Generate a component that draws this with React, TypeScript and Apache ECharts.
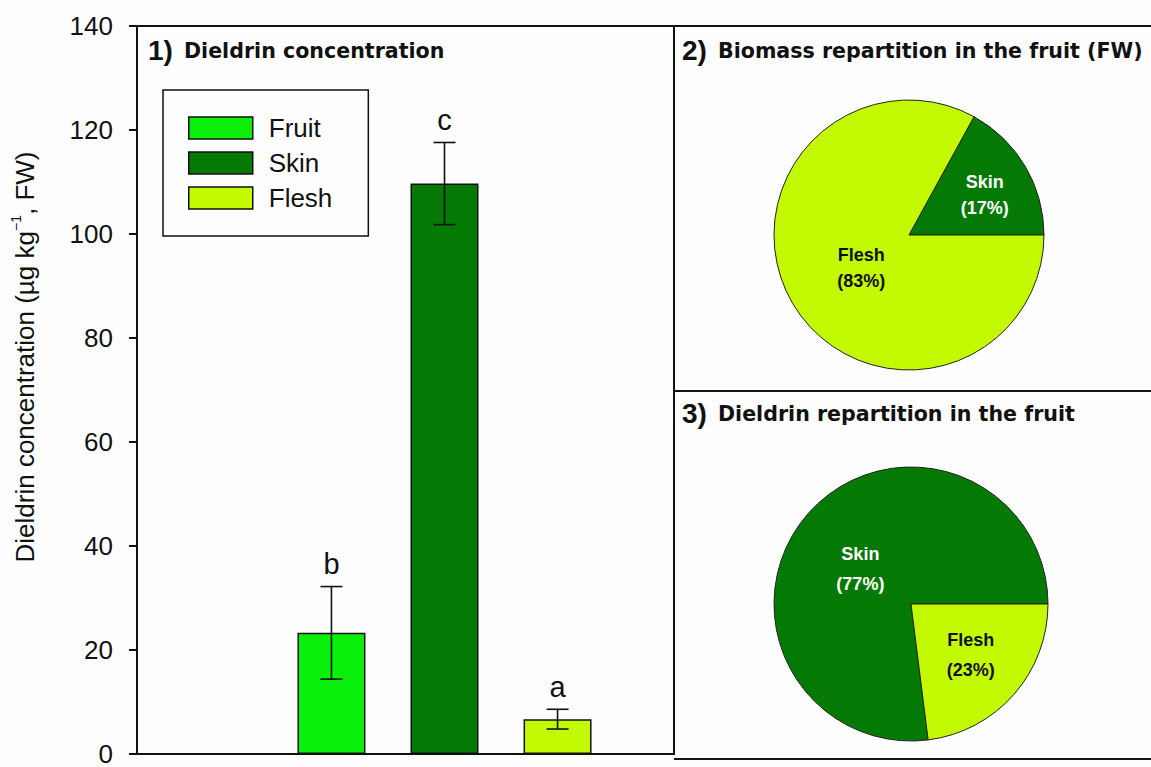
import React, { useEffect, useRef } from "react";
import * as echarts from "echarts";

// ---- data ----
const categories = ["Fruit", "Skin", "Flesh"];
const barPositions = [1.72, 2.72, 3.72];
const means = [23.3, 109.7, 6.7];
const errors = [8.9, 7.9, 1.9];
const letters = ["b", "c", "a"];
const barColors = ["#0af00a", "#047a04", "#c3fa03"];
const yMin = 0;
const yMax = 140;
const yInterval = 20;
const xMax = 4.75;

const biomassNames = ["Skin", "Flesh"];
const biomassValues = [17, 83];
const dieldrinNames = ["Skin", "Flesh"];
const dieldrinValues = [77, 23];

const panelTitles = [
  "Dieldrin concentration",
  "Biomass repartition in the fruit (FW)",
  "Dieldrin repartition in the fruit",
];

const SANS = "Liberation Sans, Arial, sans-serif";
const TITLE = "DejaVu Sans, sans-serif";
const INK = "#111";

export default function App() {
  const ref = useRef<HTMLDivElement>(null);
  useEffect(() => {
    if (!ref.current) return;
    const chart = echarts.init(ref.current, undefined, { renderer: "svg" });

    const colorOf = (n: string) => barColors[categories.indexOf(n)];
    const pieLabelColor = (n: string) => (n === "Skin" ? "#ffffff" : "#111111");

    const makePie = (
      names: string[],
      values: number[],
      center: number[],
      r: number,
      offsets: number[][],
      lh: number
    ) => ({
      type: "pie",
      center,
      radius: r,
      startAngle: 0,
      clockwise: false,
      silent: true,
      label: { show: true },
      labelLine: { show: false },
      data: names.map((n, i) => ({
        name: n,
        value: values[i],
        itemStyle: { color: colorOf(n), borderColor: "#222", borderWidth: 1 },
        label: {
          show: true,
          position: "inside",
          formatter: "{b}\n({c}%)",
          color: pieLabelColor(n),
          fontFamily: SANS,
          fontWeight: "bold",
          fontSize: 18,
          lineHeight: lh,
          offset: offsets[i],
        },
      })),
    });

    const line = (x1: number, y1: number, x2: number, y2: number) => ({
      type: "line",
      shape: { x1, y1, x2, y2 },
      style: { stroke: INK, lineWidth: 2 },
      silent: true,
    });
    const title = (num: string, text: string, x: number, y: number) => [
      {
        type: "text",
        x,
        y,
        style: { text: num, font: `bold 28px ${SANS}`, fill: INK, align: "left", verticalAlign: "middle" },
      },
      {
        type: "text",
        x: x + 36,
        y: y + 1,
        style: { text, font: `bold 20.6px ${TITLE}`, fill: INK, align: "left", verticalAlign: "middle" },
      },
    ];

    const option: any = {
      animation: false,
      backgroundColor: "#fefefe",
      grid: {
        left: 137,
        top: 26,
        right: 477,
        bottom: 8,
        show: true,
        borderColor: INK,
        borderWidth: 2,
        backgroundColor: "transparent",
      },
      legend: {
        show: true,
        data: categories,
        orient: "vertical",
        left: 163,
        top: 90,
        selectedMode: false,
        icon: "rect",
        itemWidth: 64,
        itemHeight: 22,
        itemGap: 9,
        padding: [25, 36, 25, 25],
        borderColor: INK,
        borderWidth: 1.5,
        itemStyle: { borderColor: INK, borderWidth: 1.5 },
        textStyle: { fontFamily: SANS, fontSize: 26, color: INK, padding: [0, 0, 0, 11] },
      },
      xAxis: {
        type: "value",
        min: 0,
        max: xMax,
        axisLine: { show: false },
        axisTick: { show: false },
        axisLabel: { show: false },
        splitLine: { show: false },
      },
      yAxis: {
        type: "value",
        min: yMin,
        max: yMax,
        interval: yInterval,
        axisLine: { show: true, lineStyle: { color: INK, width: 2 } },
        axisTick: { show: true, inside: false, length: 8, lineStyle: { color: INK, width: 2 } },
        axisLabel: { fontFamily: SANS, fontSize: 26, color: INK, margin: 24 },
        splitLine: { show: false },
      },
      series: [
        ...categories.map((c, i) => ({
          type: "bar",
          name: c,
          barWidth: 68,
          barGap: "-100%",
          data: [[barPositions[i], means[i]]],
          itemStyle: { color: barColors[i], borderColor: INK, borderWidth: 1.5 },
          silent: true,
        })),
        {
          type: "custom",
          z: 5,
          silent: true,
          data: means.map((m, i) => [barPositions[i], m - errors[i], m + errors[i]]),
          renderItem: (params: any, api: any) => {
            const x = api.value(0);
            const lo = api.value(1);
            const hi = api.value(2);
            const pHi = api.coord([x, hi]);
            const pLo = api.coord([x, lo]);
            const cap = 11;
            const st = { stroke: INK, lineWidth: 1.6 };
            return {
              type: "group",
              children: [
                { type: "line", shape: { x1: pHi[0], y1: pHi[1], x2: pLo[0], y2: pLo[1] }, style: st },
                { type: "line", shape: { x1: pHi[0] - cap, y1: pHi[1], x2: pHi[0] + cap, y2: pHi[1] }, style: st },
                { type: "line", shape: { x1: pLo[0] - cap, y1: pLo[1], x2: pLo[0] + cap, y2: pLo[1] }, style: st },
                {
                  type: "text",
                  x: pHi[0],
                  y: pHi[1] - 8,
                  style: {
                    text: letters[params.dataIndex],
                    font: `29px ${SANS}`,
                    fill: INK,
                    align: "center",
                    verticalAlign: "bottom",
                  },
                },
              ],
            };
          },
        },
        makePie(biomassNames, biomassValues, [909, 235], 135, [[15, -4], [13, -3]], 26),
        makePie(dieldrinNames, dieldrinValues, [911, 604], 137, [[3, 12], [6, 4]], 30),
      ],
      graphic: [
        line(674, 26, 1151, 26),
        line(674, 391, 1151, 391),
        line(674, 759, 1151, 759),
        ...title("1)", panelTitles[0], 148, 50),
        ...title("2)", panelTitles[1], 682, 50),
        ...title("3)", panelTitles[2], 682, 413),
        {
          type: "text",
          x: 25,
          y: 357,
          rotation: Math.PI / 2,
          style: {
            text: "{n|Dieldrin concentration (µg kg}{s|−1}{n|, FW)}",
            align: "center",
            verticalAlign: "middle",
            fill: INK,
            rich: {
              n: { fontFamily: SANS, fontSize: 26, lineHeight: 32, fill: INK, color: INK },
              s: { fontFamily: SANS, fontSize: 14, lineHeight: 32, verticalAlign: "top", fill: INK, color: INK },
            },
          },
        },
      ],
    };
    chart.setOption(option);
    return () => chart.dispose();
  }, []);
  return (
    <div
      ref={ref}
      style={{ position: "absolute", left: 0, top: 0, width: 1151, height: 767 }}
    />
  );
}
